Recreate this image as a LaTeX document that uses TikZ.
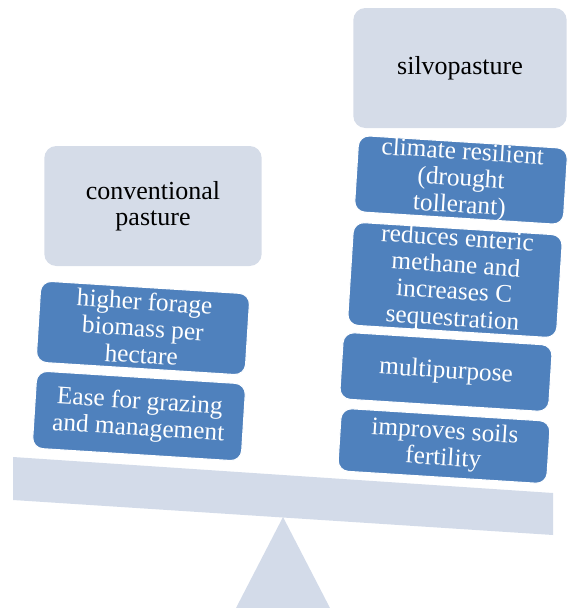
\documentclass[tikz,border=0pt]{standalone}
\usepackage{fontspec}
\setmainfont{Liberation Serif}
\definecolor{paleblue}{HTML}{D5DCE8}
\definecolor{beamblue}{HTML}{D3DBE9}
\definecolor{boxblue}{HTML}{4F81BD}
\tikzset{
  headbox/.style={fill=paleblue, rounded corners=9pt, minimum width=163pt, minimum height=90pt, align=center, font=\fontsize{19.5}{19.5}\selectfont},
  gainbox/.style={fill=boxblue, draw=white, line width=0.8pt, rounded corners=8pt, text=white, align=center, rotate=-3.6, minimum width=157pt, font=\fontsize{19}{20}\selectfont},
}
\begin{document}
\begin{tikzpicture}[y=0.75pt, x=0.75pt, yscale=-1, inner sep=0pt, outer sep=0pt]
\useasboundingbox (0,0) rectangle (570,608);
% fulcrum and beam
\path[fill=beamblue] (283,517) -- (330,608) -- (236,608) -- cycle;
\path[fill=beamblue] (13,457) -- (553,493) -- (553,535) -- (13,500) -- cycle;
% left pan
\node[headbox] (conv) at (153,206) {conventional\\pasture};
\node[gainbox, minimum height=61pt] (forage) at (143,328) {higher forage\\biomass per\\hectare};
\node[gainbox, minimum height=58pt] (ease) at (139,416) {Ease for grazing\\and management};
% right pan
\node[headbox, minimum width=160pt] (silvo) at (460,68) {silvopasture};
\node[gainbox, minimum height=56pt] (climate) at (461,180) {climate resilient\\(drought\\tollerant)};
\node[gainbox, minimum height=73pt] (methane) at (455,280) {reduces enteric\\methane  and\\increases C\\sequestration};
\node[gainbox, minimum height=50pt] (multi) at (446,372) {multipurpose};
\node[gainbox, minimum height=47pt] (soils) at (444,446) {improves soils\\fertility};
\end{tikzpicture}
\end{document}
